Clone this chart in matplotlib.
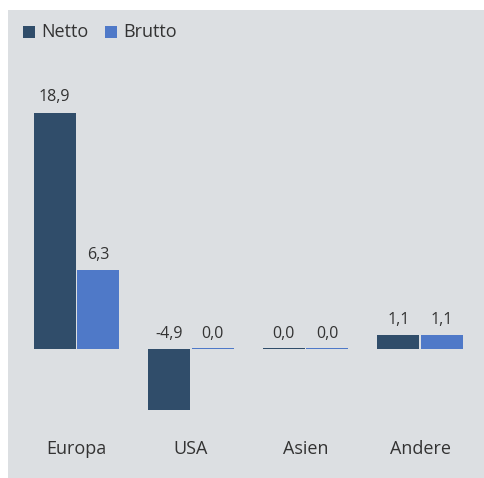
import matplotlib.pyplot as plt
import matplotlib.patches as mpatches
import numpy as np

plt.rcParams['font.family'] = ['Open Sans', 'DejaVu Sans']

regions = ['Europa', 'USA', 'Asien', 'Andere']
netto = [18.9, -4.9, 0.0, 1.1]
brutto = [6.3, 0.0, 0.0, 1.1]

c_netto = '#304d6a'
c_brutto = '#4f79c8'
bg = '#dcdfe2'
txt = '#333333'

W, H = 484, 478
fig = plt.figure(figsize=(W / 100, H / 100), dpi=100)
fig.patch.set_facecolor('white')

# grauer Hintergrund
fig.patches.append(mpatches.Rectangle((8 / W, 0), 1 - 8 / W, 1 - 10 / H,
                                      transform=fig.transFigure, facecolor=bg,
                                      edgecolor='none', zorder=-10))

# Achse: Null bei y=349px, 12.5 px pro Einheit
top_px, bot_px = 60, 425
ax = fig.add_axes([8 / W, 1 - bot_px / H, 1 - 8 / W, (bot_px - top_px) / H])
ax.set_facecolor('none')
ax.set_ylim(-(bot_px - 349) / 12.5, (349 - top_px) / 12.5)
ax.set_xlim((8 - 76.5) / 114.5, (484 - 76.5) / 114.5)

x = np.arange(len(regions))
step = 0.19
bw = 0.37
min_h = 0.12  # Nullwerte als dünne Linie

def draw(xs, vals, color):
    hs = [v if v != 0 else min_h for v in vals]
    bars = ax.bar(xs, hs, width=bw, color=color, edgecolor='none')
    for b, v in zip(bars, vals):
        y = max(v, 0) + 0.6
        ax.text(b.get_x() + b.get_width() / 2, y, f'{v:.1f}'.replace('.', ','),
                ha='center', va='bottom', fontsize=11.5, color=txt)

draw(x - step, netto, c_netto)
draw(x + step, brutto, c_brutto)

ax.set_xticks(x)
ax.set_xticklabels(regions, fontsize=13, color=txt)
ax.tick_params(axis='x', length=0, pad=11)
ax.set_yticks([])
for s in ax.spines.values():
    s.set_visible(False)

# Legende
for xp, lab, col in [(23, 'Netto', c_netto), (105, 'Brutto', c_brutto)]:
    fig.patches.append(mpatches.Rectangle((xp / W, 1 - 38 / H), 12 / W, 12 / H,
                                          transform=fig.transFigure, facecolor=col,
                                          edgecolor='none'))
    fig.text((xp + 18) / W, 1 - 32 / H, lab, fontsize=13, color=txt,
             va='center', ha='left')

fig.savefig('out.png', dpi=100)
